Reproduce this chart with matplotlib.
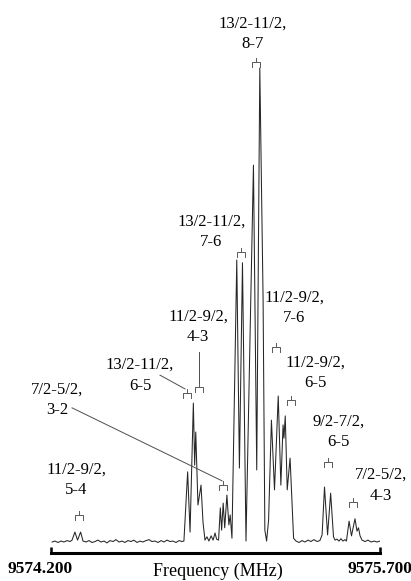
import matplotlib
matplotlib.use("Agg")
import matplotlib.pyplot as plt
from matplotlib.transforms import ScaledTranslation

plt.rcParams["font.family"] = ["Liberation Serif", "DejaVu Serif"]

# spectrum trace: frequency (MHz) / relative intensity
freq = [
    9574.205, 9574.218, 9574.232, 9574.246, 9574.259, 9574.273, 9574.287, 9574.296,
    9574.309, 9574.321, 9574.335, 9574.346,
    9574.360, 9574.373, 9574.387, 9574.401, 9574.414, 9574.428, 9574.442, 9574.455,
    9574.469, 9574.483, 9574.496, 9574.510, 9574.524, 9574.537, 9574.551, 9574.565,
    9574.578, 9574.592, 9574.606, 9574.619, 9574.633, 9574.647, 9574.660, 9574.674,
    9574.688, 9574.702, 9574.715, 9574.729, 9574.743, 9574.756, 9574.770, 9574.784,
    9574.797,
    9574.806, 9574.823, 9574.834, 9574.849, 9574.855, 9574.860, 9574.870, 9574.884,
    9574.893, 9574.902,
    9574.911, 9574.920, 9574.930, 9574.939, 9574.948, 9574.955, 9574.964,
    9574.972, 9574.978, 9574.985, 9574.992, 9575.002, 9575.011, 9575.017, 9575.025,
    9575.047, 9575.059, 9575.073, 9575.089,
    9575.123, 9575.138, 9575.152, 9575.167, 9575.175, 9575.183,
    9575.192, 9575.205, 9575.219, 9575.236, 9575.248, 9575.258, 9575.262, 9575.268,
    9575.277, 9575.290, 9575.306,
    9575.317, 9575.331, 9575.344, 9575.358, 9575.372, 9575.385, 9575.399, 9575.413,
    9575.426,
    9575.436, 9575.447, 9575.461, 9575.475, 9575.488, 9575.495,
    9575.504, 9575.513, 9575.522, 9575.531, 9575.540, 9575.547,
    9575.559, 9575.570, 9575.586, 9575.595, 9575.602, 9575.609, 9575.618,
    9575.632, 9575.645, 9575.659, 9575.673, 9575.686, 9575.700,
]
intensity = [
    0.0, 0.2, -0.1, 0.2, 0.0, 0.3, 0.1, 0.4,
    2.1, 0.4, 2.1, 0.2,
    0.0, 0.3, -0.1, 0.1, 0.4, 0.0, 0.2, -0.2,
    0.3, 0.1, 0.5, 0.0, 0.2, -0.1, 0.3, 0.1,
    0.4, -0.1, 0.2, 0.0, 0.3, 0.5, 0.1, 0.2,
    -0.1, 0.3, 0.0, 0.4, 0.1, 0.2, -0.1, 0.3,
    0.1,
    0.2, 14.8, 2.1, 29.3, 16.2, 23.2, 7.8, 12.0,
    4.2, 0.4,
    1.1, 0.2, 1.3, 0.4, 1.9, 0.6, 0.4,
    7.2, 2.5, 8.2, 3.0, 9.9, 3.6, 5.7, 0.8,
    59.5, 15.6, 58.9, 0.2,
    79.5, 15.2, 100.0, 51.1, 2.5, 0.2,
    4.6, 25.7, 11.0, 30.8, 12.0, 24.7, 21.9, 26.6,
    11.0, 17.7, 0.8,
    0.2, -0.1, 0.3, 0.0, 0.4, 0.1, 0.5, 0.1,
    0.3,
    1.5, 11.6, 1.5, 10.3, 1.1, 0.4,
    0.6, 0.2, 0.7, 0.2, 0.5, 0.2,
    4.4, 1.3, 4.9, 2.3, 3.0, 1.3, 0.4,
    0.1, 0.4, 0.0, 0.2, 0.0, 0.2,
]

# assignments (J'-J'', F'-F'') and where the line sits (bracket)
labels = [
    "13/2-11/2,\n8-7", "13/2-11/2,\n7-6", "11/2-9/2,\n4-3", "13/2-11/2,\n6-5",
    "7/2-5/2,\n3-2", "11/2-9/2,\n5-4", "11/2-9/2,\n7-6", "11/2-9/2,\n6-5",
    "9/2-7/2,\n6-5", "7/2-5/2,\n4-3",
]
line_freq = [9575.135, 9575.066, 9574.875, 9574.820, 9574.984,
             9574.328, 9575.226, 9575.294, 9575.463, 9575.577]
line_mark = [101.3, 61.2, 32.7, 31.4, 12.0, 5.7, 41.1, 30.0, 16.9, 8.4]

# text placement for each label (freq, intensity)
text_pos = [
    (9575.121, 107.2), (9574.930, 65.4), (9574.870, 45.4), (9574.606, 35.2),
    (9574.227, 30.0), (9574.314, 13.1), (9575.308, 49.4), (9575.404, 35.7),
    (9575.509, 23.2), (9575.705, 12.0),
]
# leader lines from label to bracket: (label index, start, end)
leaders = [
    (2, (9574.875, 40.1), (9574.875, 33.5)),
    (3, (9574.697, 35.2), (9574.811, 32.3)),
    (4, (9574.296, 28.3), (9574.980, 12.9)),
]


def bracket(ax, x, y, hw=0.019, arm=1.1, stem=0.9):
    ax.plot([x - hw, x - hw, x + hw, x + hw], [y - arm, y, y, y - arm],
            color="0.35", lw=0.7)
    ax.plot([x, x], [y, y + stem], color="0.35", lw=0.7)


fig = plt.figure(figsize=(4.11, 5.81), dpi=100)
ax = fig.add_axes([51 / 411, 28 / 581, 329 / 411, 553 / 581])

ax.plot(freq, intensity, color="0.15", lw=0.75)

for txt, (tx, ty) in zip(labels, text_pos):
    ax.text(tx, ty, txt, ha="center", va="center", fontsize=12,
            linespacing=1.4, multialignment="center")
for f, y in zip(line_freq, line_mark):
    bracket(ax, f, y)
for _, (x0, y0), (x1, y1) in leaders:
    ax.plot([x0, x1], [y0, y1], color="0.3", lw=0.7)

ax.set_xlim(9574.2, 9575.7)
ax.set_ylim(-2.32, 114.35)
for side in ("top", "left", "right"):
    ax.spines[side].set_visible(False)
ax.spines["bottom"].set_linewidth(2.2)
ax.set_yticks([])
ax.set_xticks([9574.2, 9575.7])
ax.set_xticklabels(["9574.200", "9575.700"], fontweight="bold", fontsize=12.5)
ax.tick_params(axis="x", direction="in", length=4.5, width=1.8, pad=6)
first = ax.get_xticklabels()[0]
first.set_transform(first.get_transform() + ScaledTranslation(-0.11, 0, fig.dpi_scale_trans))

ax.text(0.508, -0.0325, "Frequency (MHz)", transform=ax.transAxes,
        ha="center", va="center", fontsize=13)

fig.savefig("out.png", dpi=100)
